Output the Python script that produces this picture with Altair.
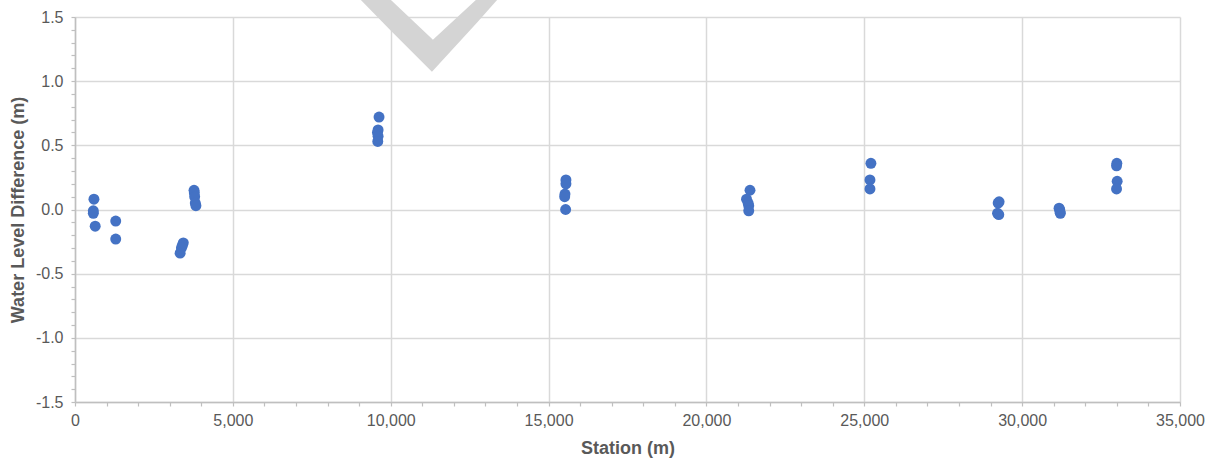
import altair as alt
import pandas as pd

# Station (m) and water level difference (m) for each observation
station = [
    600, 580, 580, 640,
    1290, 1290,
    3430, 3400, 3370, 3330,
    3770, 3780, 3790, 3810, 3830,
    9630, 9600, 9580, 9600, 9590,
    15550, 15550, 15520, 15510, 15540,
    21380, 21270, 21320, 21340, 21340,
    25210, 25180, 25180,
    29270, 29240, 29220, 29260,
    31170, 31190, 31200, 31210,
    33000, 32990, 33010, 32990,
]
difference = [
    0.08, -0.01, -0.03, -0.13,
    -0.09, -0.23,
    -0.26, -0.28, -0.30, -0.34,
    0.15, 0.13, 0.10, 0.05, 0.03,
    0.72, 0.62, 0.60, 0.57, 0.53,
    0.23, 0.20, 0.12, 0.10, 0.00,
    0.15, 0.08, 0.05, 0.03, -0.01,
    0.36, 0.23, 0.16,
    0.06, 0.05, -0.03, -0.04,
    0.01, 0.00, -0.02, -0.03,
    0.36, 0.34, 0.22, 0.16,
]

# Gray chevron watermark outline (lower and upper edges along station)
chevron_x = [9025, 9975, 11305, 11336, 12730, 13395]
chevron_lo = [1.64, 1.400, 1.073, 1.081, 1.455, 1.64]
chevron_hi = [1.64, 1.64, 1.330, 1.322, 1.64, 1.64]

y_ticks = [round(i * 0.1, 1) for i in range(-15, 16)]
x_ticks = list(range(0, 35001, 1000))

points = pd.DataFrame({"station": station, "diff": difference})
chevron = pd.DataFrame({"x": chevron_x, "lo": chevron_lo, "hi": chevron_hi})

FONT = "Liberation Sans"
TXT = "#595959"
GRID = "#d9d9d9"
AXIS = "#bfbfbf"

x_scale = alt.Scale(domain=[0, 35000], nice=False, zero=False)
y_scale = alt.Scale(domain=[-1.5, 1.5], nice=False, zero=False)

x_major = "datum.value % 5000 === 0"
y_major = "abs(datum.value * 2 - round(datum.value * 2)) < 0.001"

x_axis = alt.Axis(
    values=x_ticks,
    tickCount=200,
    labelExpr=f"{x_major} ? format(datum.value, ',') : ''",
    gridOpacity={"condition": {"test": x_major, "value": 1}, "value": 0},
    title="Station (m)",
    labelOverlap=False,
    labelFlush=False,
    labelPadding=6,
    titlePadding=11,
)
y_axis = alt.Axis(
    values=y_ticks,
    tickCount=200,
    labelExpr=f"{y_major} ? replace(format(datum.value, '.1f'), '\u2212', '-') : ''",
    gridOpacity={"condition": {"test": y_major, "value": 1}, "value": 0},
    title="Water Level Difference (m)",
    labelOverlap=False,
    labelFlush=False,
    labelPadding=8,
    titlePadding=8,
)

scatter = alt.Chart(points).mark_circle(size=120, opacity=1, color="#4472c4").encode(
    x=alt.X("station:Q", scale=x_scale, axis=x_axis),
    y=alt.Y("diff:Q", scale=y_scale, axis=y_axis),
)

mark = alt.Chart(chevron).mark_area(color="#d4d4d4", opacity=1).encode(
    x=alt.X("x:Q", scale=x_scale),
    y=alt.Y("lo:Q", scale=y_scale),
    y2="hi:Q",
)

chart = alt.layer(scatter, mark).properties(
    width=1105,
    height=385,
    autosize=alt.AutoSizeParams(type="none"),
    padding={"left": 75, "top": 17, "right": 32, "bottom": 58},
    background="white",
).configure_view(
    stroke=None,
).configure_axis(
    labelFont=FONT,
    labelFontSize=16,
    labelColor=TXT,
    titleFont=FONT,
    titleFontSize=18,
    titleFontWeight="bold",
    titleColor=TXT,
    gridColor=GRID,
    gridWidth=1.5,
    domainColor=AXIS,
    domainWidth=1.5,
    tickColor=AXIS,
    tickWidth=1.2,
    tickSize=4,
)

chart.save("out.html", embed_options={"renderer": "svg", "actions": False})
